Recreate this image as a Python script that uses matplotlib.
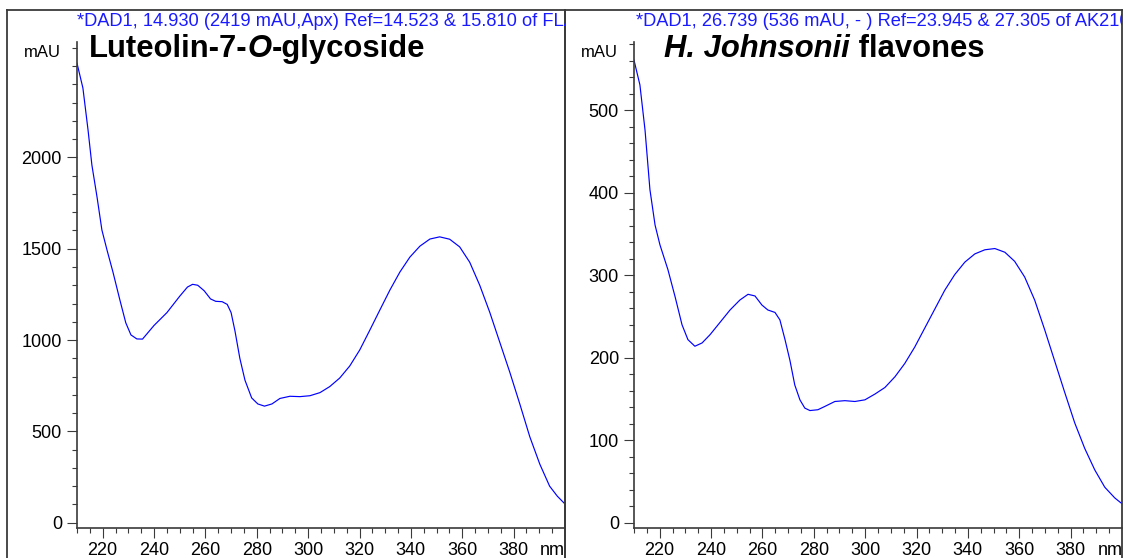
import matplotlib
matplotlib.use("Agg")
import matplotlib.pyplot as plt
from matplotlib.lines import Line2D
from matplotlib.transforms import Bbox, TransformedBbox
from matplotlib.ticker import MultipleLocator, FixedLocator

plt.rcParams['font.family'] = ['Liberation Sans', 'DejaVu Sans']

# ---------------- data ----------------
left_nm = [210, 212.3, 214.3, 215.8, 217.8, 219.7, 221.7, 224, 226.7, 229, 231, 233.3, 235.5,
           237.6, 240, 245, 250, 253, 255, 257, 259.5, 262, 264, 266.5, 268.5, 270, 271.5,
           273.4, 275.4, 278, 280.4, 283, 285.9, 289, 292.9, 296.8, 300.7, 304.6, 308.4,
           312.3, 316.2, 320.1, 324, 327.9, 331.8, 335.7, 339.6, 343.5, 347.4, 351.2, 355.1,
           359, 362.9, 366.8, 370.7, 374.6, 378.5, 382.4, 386.3, 390.2, 394, 397, 400]
left_mau = [2516, 2380, 2150, 1958, 1783, 1602, 1492, 1372, 1219, 1094, 1028, 1006, 1005,
            1040, 1080, 1150, 1240, 1290, 1305, 1300, 1270, 1225, 1212, 1210, 1195, 1150, 1050,
            900, 780, 683, 650, 638, 650, 680, 692, 690, 695, 712, 745,
            792, 858, 946, 1054, 1164, 1273, 1372, 1454, 1514, 1553, 1565, 1552,
            1510, 1426, 1300, 1152, 988, 824, 650, 470, 320, 200, 145, 102]

right_nm = [210, 212.3, 214.3, 216.2, 218.2, 220.1, 223.2, 226, 228.7, 231, 233.7, 236.5,
            239.6, 243.5, 247.4, 251.2, 254.4, 257.1, 259.8, 262.1, 264.9, 266.8, 268.8,
            270.7, 272.6, 274.6, 276.5, 278.5, 281.6, 284.3, 288.2, 292.1, 296, 299.9,
            303.8, 307.7, 311.6, 315.4, 319.3, 323.2, 327.1, 331, 334.9, 338.8, 342.7,
            346.6, 350.5, 354.4, 358.2, 362.1, 366, 369.9, 373.8, 377.7, 381.6, 385.5,
            389.4, 393.3, 397.2, 400]
right_mau = [561, 531, 476, 404, 361, 337, 307, 274, 240, 222, 214, 218,
             228, 243, 258, 270, 277, 275, 264, 258, 255, 246, 222,
             197, 167, 149, 139, 136, 137, 141, 147, 148, 147, 149,
             156, 164, 177, 193, 213, 236, 259, 282, 301, 316, 326,
             331, 332.5, 328, 317, 298, 270, 234, 196, 158, 121, 90,
             64, 43, 30, 23]

x_major = [220, 240, 260, 280, 300, 320, 340, 360, 380]
x_minor = list(range(210, 400, 5))
left_yticks = [0, 500, 1000, 1500, 2000]
right_yticks = [0, 100, 200, 300, 400, 500]

left_header = "*DAD1, 14.930 (2419 mAU,Apx) Ref=14.523 & 15.810 of FLA1.D"
right_header = "*DAD1, 26.739 (536 mAU, - ) Ref=23.945 & 27.305 of AK2101.D"
left_title = [("Luteolin-7-", "normal"), ("O", "italic"), ("-glycoside", "normal")]
right_title = [("H. Johnsonii", "italic"), (" flavones", "normal")]

# ---------------- layout ----------------
W, H = 1127, 558
fig = plt.figure(figsize=(W / 100, H / 100), dpi=100)


def fx(px):
    return px / W


def fy(py):
    return 1 - py / H


border = '#3a3a3a'
# panel borders
for (x0, x1) in [(7, 565), (565, 1122)]:
    fig.add_artist(Line2D([fx(x0), fx(x0)], [fy(10), fy(560)], transform=fig.transFigure,
                          color=border, lw=1.3))
    fig.add_artist(Line2D([fx(x1), fx(x1)], [fy(10), fy(560)], transform=fig.transFigure,
                          color=border, lw=1.3))
    fig.add_artist(Line2D([fx(x0), fx(x1)], [fy(10), fy(10)], transform=fig.transFigure,
                          color=border, lw=1.3))

panels = [
    dict(ax_left=77, ax_right=565, panel=(7, 565), nm=left_nm, mau=left_mau,
         ylim=(-31, 2632), yticks=left_yticks, yminor=100, header=left_header,
         title=left_title, title_x=89, header_x=77, mau_x=61, nm_x=540),
    dict(ax_left=634, ax_right=1122, panel=(565, 1122), nm=right_nm, mau=right_mau,
         ylim=(-6.8, 583), yticks=right_yticks, yminor=20, header=right_header,
         title=right_title, title_x=664, header_x=636, mau_x=618, nm_x=1098),
]

ax_top, ax_bottom = 42, 528.3
renderer = fig.canvas.get_renderer()

for p in panels:
    ax = fig.add_axes([fx(p['ax_left']), fy(ax_bottom), (p['ax_right'] - p['ax_left']) / W,
                       (ax_bottom - ax_top) / H])
    ax.plot(p['nm'], p['mau'], color='#0000ff', lw=0.85)
    ax.set_xlim(210, 400)
    ax.set_ylim(*p['ylim'])
    ax.set_facecolor('none')
    for s in ['top', 'right']:
        ax.spines[s].set_visible(False)
    for s in ['left', 'bottom']:
        ax.spines[s].set_color(border)
        ax.spines[s].set_linewidth(1.2)
    ax.xaxis.set_major_locator(FixedLocator(x_major))
    ax.xaxis.set_minor_locator(FixedLocator([v for v in x_minor if v not in x_major]))
    ax.yaxis.set_major_locator(FixedLocator(p['yticks']))
    ax.yaxis.set_minor_locator(MultipleLocator(p['yminor']))
    ax.tick_params(axis='both', which='major', length=7.2, width=0.8, color=border,
                   labelsize=13, direction='out')
    ax.tick_params(axis='both', which='minor', length=3.8, width=0.8, color=border,
                   direction='out')
    ax.tick_params(axis='y', which='major', pad=3.6)
    ax.tick_params(axis='x', which='major', pad=2.5)

    clip = TransformedBbox(Bbox.from_extents(fx(p['panel'][0]), 0, fx(p['panel'][1]), 1),
                           fig.transFigure)
    # header
    t = fig.text(fx(p['header_x']), fy(26), p['header'], color='#1a1aff', fontsize=13.15,
                 ha='left', va='baseline')
    t.set_clip_box(clip)
    t.set_clip_on(True)
    # mAU
    fig.text(fx(p['mau_x']), fy(57), 'mAU', fontsize=12, ha='right', va='baseline')
    # nm
    t = fig.text(fx(p['nm_x']), fy(555), 'nm', fontsize=13, ha='left', va='baseline')
    t.set_clip_box(clip)
    t.set_clip_on(True)
    # title runs
    x = p['title_x']
    for txt, style in p['title']:
        t = fig.text(fx(x), fy(57), txt, fontsize=22.3, fontweight='bold', fontstyle=style,
                     ha='left', va='baseline')
        bb = t.get_window_extent(renderer)
        x += bb.width

fig.savefig('out.png', dpi=100)
